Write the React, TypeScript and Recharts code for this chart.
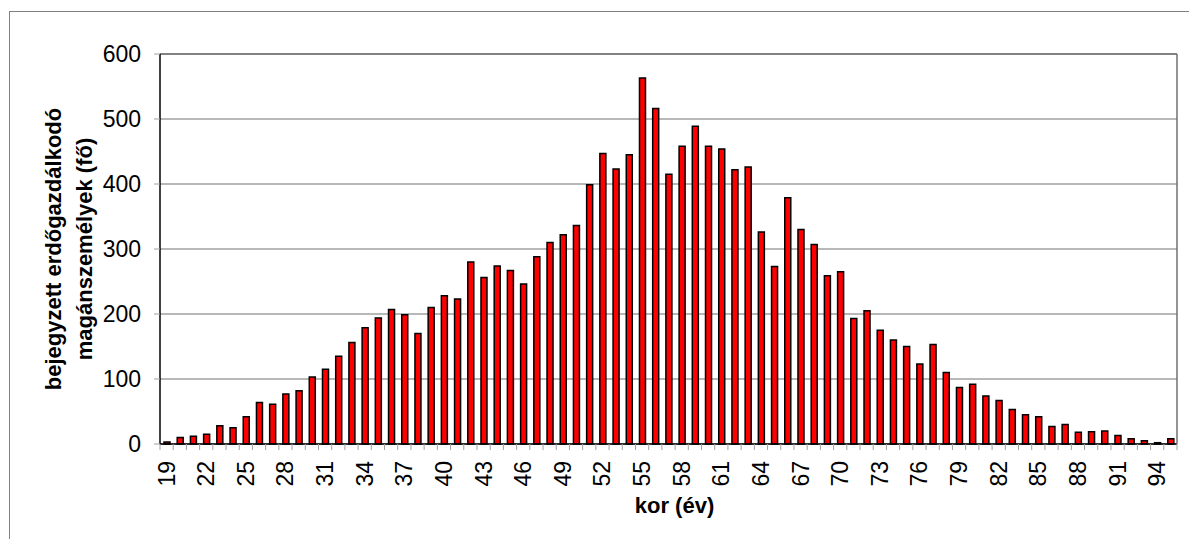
import { BarChart, Bar, XAxis, YAxis, CartesianGrid, ReferenceLine, Label } from "recharts";

// kor (év) – category labels
const ages = [
  19, 20, 21, 22, 23, 24, 25, 26, 27, 28, 29, 30, 31, 32, 33, 34, 35, 36, 37, 38,
  39, 40, 41, 42, 43, 44, 45, 46, 47, 48, 49, 50, 51, 52, 53, 54, 55, 56, 57, 58,
  59, 60, 61, 62, 63, 64, 65, 66, 67, 68, 69, 70, 71, 72, 73, 74, 75, 76, 77, 78,
  79, 80, 81, 82, 83, 84, 85, 86, 87, 88, 89, 90, 91, 92, 93, 94, 95,
];

// bejegyzett erdőgazdálkodó magánszemélyek (fő)
const counts = [
  3, 10, 12, 15, 28, 25, 42, 64, 61, 77, 82, 103, 115, 135, 156, 179, 194, 207, 199, 170,
  210, 228, 223, 280, 256, 274, 267, 246, 288, 310, 322, 336, 399, 447, 423, 445, 563, 516, 415, 458,
  489, 458, 454, 422, 426, 326, 273, 379, 330, 307, 259, 265, 193, 205, 175, 160, 150, 123, 153, 110,
  87, 92, 74, 67, 53, 45, 42, 27, 30, 18, 19, 20, 13, 8, 5, 2, 8,
];

const yTicks = [0, 100, 200, 300, 400, 500, 600];

const data = ages.map((age, i) => ({ age, count: counts[i] }));

const FONT = "'Liberation Sans', Arial, sans-serif";

function AgeTick(props: any) {
  const { x, y, payload, index, width, visibleTicksCount } = props;
  const band = width / visibleTicksCount;
  const axisY = y - 17;
  const left = x - band / 2;
  return (
    <g>
      <line x1={left} x2={left} y1={axisY} y2={axisY + 6} stroke="#a0a0a0" />
      {index === visibleTicksCount - 1 && (
        <line x1={left + band} x2={left + band} y1={axisY} y2={axisY + 6} stroke="#a0a0a0" />
      )}
      {index % 3 === 0 && (
        <text
          x={x}
          y={y}
          transform={`rotate(-90 ${x} ${y})`}
          textAnchor="end"
          dominantBaseline="central"
          fontSize={23}
          fill="#000"
        >
          {payload.value}
        </text>
      )}
    </g>
  );
}

function XTitle(props: any) {
  const { viewBox } = props;
  return (
    <text
      x={viewBox.x + viewBox.width / 2 + 6}
      y={505}
      textAnchor="middle"
      dominantBaseline="central"
      fontSize={22}
      fontWeight="bold"
      fill="#000"
    >
      kor (év)
    </text>
  );
}

function YTitle(props: any) {
  const { viewBox } = props;
  const cy = viewBox.y + viewBox.height / 2;
  return (
    <g fontSize={22} fontWeight="bold" fill="#000">
      <text x={53} y={cy} transform={`rotate(-90 53 ${cy})`} textAnchor="middle" dominantBaseline="central">
        bejegyzett erdőgazdálkodó
      </text>
      <text x={84} y={cy} transform={`rotate(-90 84 ${cy})`} textAnchor="middle" dominantBaseline="central">
        magánszemélyek (fő)
      </text>
    </g>
  );
}

export default function App() {
  return (
    <div
      style={{
        position: "absolute",
        left: 0,
        top: 0,
        width: 1189,
        height: 539,
        background: "#fff",
        overflow: "hidden",
        fontFamily: FONT,
      }}
    >
      <div
        style={{
          position: "absolute",
          left: 9,
          top: 11,
          width: 1300,
          height: 700,
          borderLeft: "1px solid #808080",
          borderTop: "1px solid #808080",
        }}
      />
      <div style={{ position: "absolute", left: 0, top: 0 }}>
        <BarChart
          width={1189}
          height={539}
          data={data}
          margin={{ top: 54, right: 11, bottom: 35, left: 100 }}
          barCategoryGap={0}
          style={{ fontFamily: FONT }}
        >
          <CartesianGrid horizontal vertical={false} stroke="#a0a0a0" strokeWidth={1.5} />
          <XAxis
            dataKey="age"
            interval={0}
            height={60}
            tickSize={6}
            tickMargin={11}
            tickLine={false}
            axisLine={{ stroke: "#000", strokeWidth: 1.5 }}
            tick={<AgeTick />}
          >
            <Label content={<XTitle />} />
          </XAxis>
          <YAxis
            domain={[0, 600]}
            ticks={yTicks}
            width={60}
            tickSize={6}
            tickMargin={13}
            tickLine={{ stroke: "#a0a0a0" }}
            axisLine={{ stroke: "#000", strokeWidth: 1.5 }}
            tick={{ fontSize: 23, fill: "#000" }}
          >
            <Label content={<YTitle />} />
          </YAxis>
          <YAxis
            yAxisId="frame"
            orientation="right"
            width={1}
            tick={false}
            tickLine={false}
            axisLine={{ stroke: "#707070", strokeWidth: 1.5 }}
          />
          <ReferenceLine y={600} stroke="#707070" strokeWidth={1.5} />
          <Bar
            dataKey="count"
            fill="#ff0000"
            stroke="#000"
            strokeWidth={1.5}
            barSize={6}
            isAnimationActive={false}
          />
        </BarChart>
      </div>
    </div>
  );
}
